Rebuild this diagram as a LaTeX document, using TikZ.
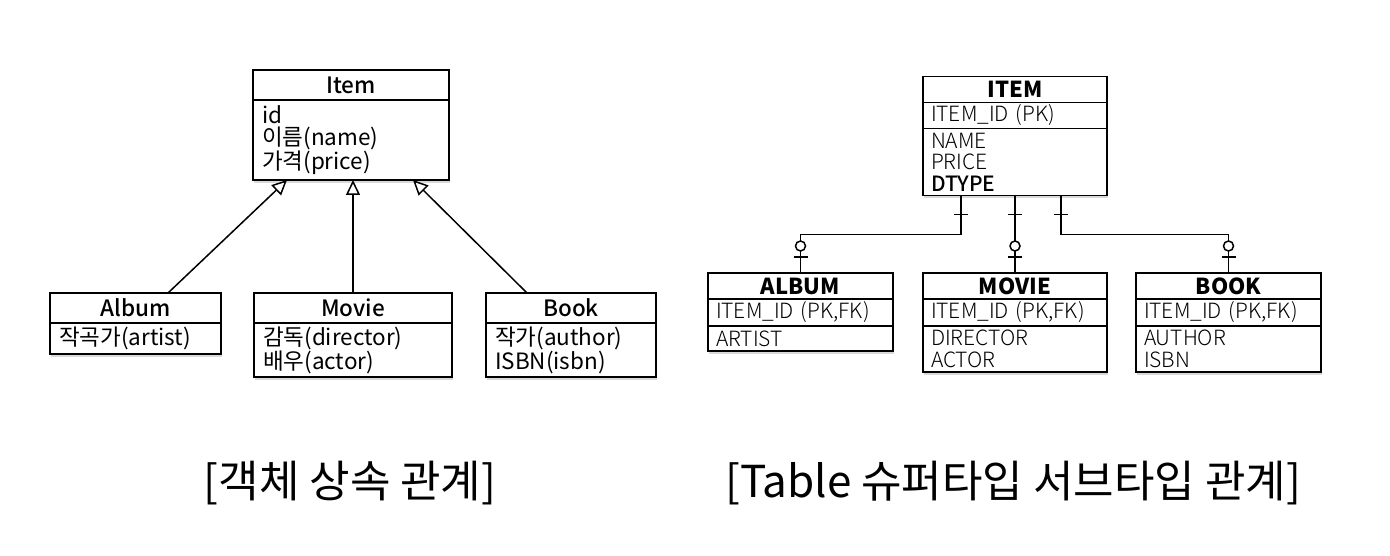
\documentclass[tikz,border=0pt]{standalone}
\usepackage{fontspec}
\setmainfont{Noto Sans CJK KR}
\newfontfamily\hdfont{Noto Sans CJK KR Medium}
\newfontfamily\ltfont{Noto Sans CJK KR Light}
\usetikzlibrary{positioning,arrows.meta,shadows}

\begin{document}
\begin{tikzpicture}[x=1pt, y=-1pt,
    box/.style={draw, line width=1.6pt, fill=white, outer sep=0pt, inner sep=0pt,
        drop shadow={shadow xshift=0.5pt, shadow yshift=-3pt, opacity=0.3}},
    umlhead/.style={box, minimum width=#1, minimum height=30pt, font=\hdfont\fontsize{22.5}{22.5}\selectfont},
    umlbody/.style={box, text width=#1, inner xsep=9pt, align=left, font=\fontsize{22.5}{22.5}\selectfont},
    erhead/.style={box, minimum width=#1, minimum height=26pt, font=\bfseries\fontsize{22}{22}\selectfont},
    errow/.style={box, text width=#1, inner xsep=8pt, inner ysep=0pt, align=left, font=\ltfont\fontsize{21}{21.5}\selectfont},
    inherit/.style={line width=1.5pt, -{Triangle[open, length=15pt, width=14pt]}},
    rel/.style={line width=1.5pt},
    caption/.style={font=\fontsize{44}{48}\selectfont}]
    \useasboundingbox (0,0) rectangle (1390,556);

    % object inheritance
    \node[umlhead=196pt] (item) at (351,85) {Item};
    \node[umlbody=178pt, minimum height=80pt, below=0pt of item] (itemB) {id\\이름(name)\\가격(price)};
    \node[umlhead=171pt] (album) at (135.5,308) {Album};
    \node[umlbody=153pt, minimum height=31pt, below=0pt of album] (albumB) {작곡가(artist)};
    \node[umlhead=198pt] (movie) at (353,308) {Movie};
    \node[umlbody=180pt, minimum height=54pt, below=0pt of movie] (movieB) {감독(director)\\배우(actor)};
    \node[umlhead=170pt] (book) at (571,308) {Book};
    \node[umlbody=152pt, minimum height=54pt, below=0pt of book] (bookB) {작가(author)\\ISBN(isbn)};

    \draw[inherit] ([xshift=32.5pt]album.north) -- ([xshift=-64pt]itemB.south);
    \draw[inherit] (movie.north) -- (movie.north |- itemB.south);
    \draw[inherit] ([xshift=-44pt]book.north) -- ([xshift=62pt]itemB.south);

    % super type / sub type tables
    \node[erhead=184pt] (tItem) at (1015,89.5) {ITEM};
    \node[errow=168pt, minimum height=26pt, below=0pt of tItem] (tItemK) {ITEM\_ID (PK)};
    \node[errow=168pt, minimum height=67pt, below=0pt of tItemK] (tItemB) {NAME\\PRICE\\{\hdfont DTYPE}};
    \node[erhead=185pt] (tAlbum) at (800.5,286) {ALBUM};
    \node[errow=169pt, minimum height=27pt, below=0pt of tAlbum] (tAlbumK) {ITEM\_ID (PK,FK)};
    \node[errow=169pt, minimum height=25pt, below=0pt of tAlbumK] (tAlbumB) {ARTIST};
    \node[erhead=184pt] (tMovie) at (1015,286) {MOVIE};
    \node[errow=168pt, minimum height=27pt, below=0pt of tMovie] (tMovieK) {ITEM\_ID (PK,FK)};
    \node[errow=168pt, minimum height=46pt, below=0pt of tMovieK] (tMovieB) {DIRECTOR\\ACTOR};
    \node[erhead=185pt] (tBook) at (1228.5,286) {BOOK};
    \node[errow=169pt, minimum height=27pt, below=0pt of tBook] (tBookK) {ITEM\_ID (PK,FK)};
    \node[errow=169pt, minimum height=46pt, below=0pt of tBookK] (tBookB) {AUTHOR\\ISBN};

    % one on the ITEM side, zero or one on the sub type side
    \foreach \dx/\ch in {-54/tAlbum, 0/tMovie, 46/tBook}{
        \draw[rel] ([xshift=\dx pt]tItemB.south) -- ++(0,39) -| (\ch.north);
        \draw[rel] ([xshift=\dx pt, yshift=-19pt]tItemB.south) ++(-7,0) -- ++(14,0);
        \draw[rel] ([yshift=16pt]\ch.north) ++(-7,0) -- ++(14,0);
        \draw[rel, fill=white] ([yshift=27pt]\ch.north) circle (5pt);
    }

    \node[caption] (capObj) at (350,483) {[객체 상속 관계]};
    \node[caption] (capTbl) at (1013,483) {[Table 슈퍼타입 서브타입 관계]};
\end{tikzpicture}
\end{document}
